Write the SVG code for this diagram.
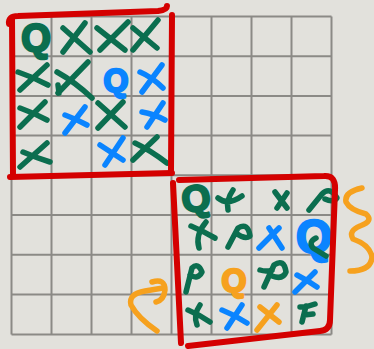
<svg xmlns="http://www.w3.org/2000/svg" width="374" height="349" viewBox="0 0 374 349">
<defs>
<style>
.grid line{stroke:#8b8a86;stroke-width:2}
.m{fill:none;stroke-linecap:round;stroke-linejoin:round;stroke-width:5.5}
.g{stroke:#0b6e4f}
.b{stroke:#0a84ff}
.o{stroke:#f6a11e}
.r{fill:none;stroke:#d40000;stroke-width:6;stroke-linecap:round;stroke-linejoin:round}
.q{font-family:"Liberation Sans",Arial,sans-serif;font-weight:bold;text-anchor:middle;stroke-width:2.5;stroke-linejoin:round}
</style>
</defs>
<rect width="374" height="349" fill="#e2e1dc"/>
<g id="grid" class="grid">
<line x1="11.5" y1="16.5" x2="11.5" y2="334.5"/>
<line x1="51.5" y1="16.5" x2="51.5" y2="334.5"/>
<line x1="91.5" y1="16.5" x2="91.5" y2="334.5"/>
<line x1="131.5" y1="16.5" x2="131.5" y2="334.5"/>
<line x1="171.5" y1="16.5" x2="171.5" y2="334.5"/>
<line x1="211.5" y1="16.5" x2="211.5" y2="334.5"/>
<line x1="251.5" y1="16.5" x2="251.5" y2="334.5"/>
<line x1="291.5" y1="16.5" x2="291.5" y2="334.5"/>
<line x1="331.5" y1="16.5" x2="331.5" y2="334.5"/>
<line x1="11.5" y1="16.5" x2="331.5" y2="16.5"/>
<line x1="11.5" y1="56.2" x2="331.5" y2="56.2"/>
<line x1="11.5" y1="95.9" x2="331.5" y2="95.9"/>
<line x1="11.5" y1="135.6" x2="331.5" y2="135.6"/>
<line x1="11.5" y1="175.3" x2="331.5" y2="175.3"/>
<line x1="11.5" y1="215" x2="331.5" y2="215"/>
<line x1="11.5" y1="254.7" x2="331.5" y2="254.7"/>
<line x1="11.5" y1="294.4" x2="331.5" y2="294.4"/>
<line x1="11.5" y1="334.5" x2="331.5" y2="334.5"/>
</g>
<g id="board-top-left">
<text class="q" x="36" y="51" font-size="38" fill="#0b6e4f" stroke="#0b6e4f" stroke-width="3">Q</text>
<path class="m g" d="M63,28 L90,52 M85,23 L63,52"/>
<path class="m g" d="M97,28 L125,50 M128,22 L100,50"/>
<path class="m g" d="M133,28 L157,48 M158,20 L133,50"/>
<path class="m g" d="M47,65 L20,90 M18,72 Q33,77 48,85"/>
<path class="m g" d="M88,62 L58,93 M57,72 Q75,82 92,98 M58,85 L59,93"/>
<text class="q" x="116" y="91" font-size="32" fill="#0a84ff" stroke="#0a84ff">Q</text>
<path class="m b" d="M162,65 L142,92 M140,72 Q152,77 163,88"/>
<path class="m g" d="M45,102 L20,127 M20,108 Q34,113 47,120"/>
<path class="m b" d="M85,107 L65,133 M65,115 Q76,119 87,125"/>
<path class="m g" d="M123,102 L98,128 M98,103 L125,127"/>
<path class="m b" d="M163,103 L147,127 M142,112 Q154,114 165,120"/>
<path class="m g" d="M47,143 L20,167 M23,152 Q37,158 50,162"/>
<path class="m b" d="M123,138 L105,165 M100,145 L123,160"/>
<path class="m g" d="M157,137 L133,160 M135,143 Q150,150 167,163"/>
</g>
<g id="board-bottom-right">
<text class="q" x="196" y="211" font-size="37" fill="#0b6e4f" stroke="#0b6e4f" transform="rotate(-8 196 198)">Q</text>
<path class="m g" d="M233,190 Q226,200 228,210 M218,198 Q228,206 242,196"/>
<path class="m g" d="M275,192 L287,208 M287,193 L277,208"/>
<path class="m g" d="M309,210 L322,194 Q330,186 337,198 Q333,203 325,199"/>
<path class="m g" d="M191,226 Q203,231 215,238 M206,222 Q195,235 199,248"/>
<path class="m g" d="M228,247 L238,228 Q248,222 250,236 Q245,240 236,233"/>
<path class="m b" d="M269,228 L282,248 M279,228 L259,248"/>
<text class="q" x="314" y="252" font-size="46" fill="#0a84ff" stroke="#0a84ff" stroke-width="3.5">Q</text>
<path class="m g" d="M316,238 Q308,242 313,248 L326,256" stroke-width="4"/>
<path class="m g" d="M186,292 L192,268 Q198,262 202,272 Q198,280 190,275"/>
<text class="q" x="234" y="291" font-size="32" fill="#f6a11e" stroke="#f6a11e">Q</text>
<path class="m g" d="M264,287 L274,265 Q284,258 286,272 Q283,280 272,276 M260,270 Q266,272 272,270"/>
<path class="m b" d="M315,272 L295,292 M297,275 Q307,280 317,287"/>
<path class="m g" d="M188,310 Q200,315 210,322 M200,305 Q193,315 197,325"/>
<path class="m b" d="M242,305 L227,328 M222,310 Q235,315 247,323"/>
<path class="m o" d="M277,305 L257,330 M260,307 L279,322"/>
<path class="m g" d="M300,307 Q308,307 315,304 M306,306 L302,322 M304,315 L313,314"/>
</g>
<g id="frames">
<path class="r" d="M9,24 Q8,16 18,16 L158,11 Q167,10 167,6"/>
<path class="r" d="M172,15 L171,170"/>
<path class="r" d="M12,18 L13,176"/>
<path class="r" d="M10,177 L172,173"/>
<path class="r" d="M179,180 L324,176 Q336,175 335,190 L330,320 Q330,330 320,331 L188,346"/>
<path class="r" d="M173,183 L181,343"/>
</g>
<g id="arrows">
<path class="m o" stroke-width="6" d="M362,188 Q344,192 346,202 Q350,210 366,214 Q374,221 360,226 Q348,231 353,239 Q370,245 372,257 Q371,271 350,271"/>
<path class="m o" d="M157,331 Q138,318 131,305 Q128,294 145,291 L163,288 M152,282 Q165,278 165,290 Q164,300 156,302"/>
</g>
</svg>
